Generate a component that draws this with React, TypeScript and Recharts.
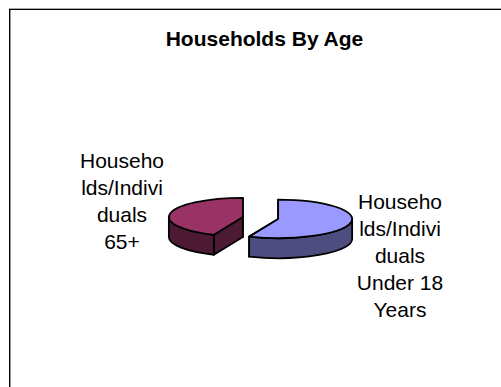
import { PieChart, Pie } from "recharts";

const categories = ["Households/Individuals Under 18 Years", "Households/Individuals 65+"];
const shares = [56.4, 43.6];
const topColors = ["#9999ff", "#993366"];
const wallColors = ["#4d4d80", "#4d1a33"];
const wrappedLabels = [
  ["Househo", "lds/Indivi", "duals", "Under 18", "Years"],
  ["Househo", "lds/Indivi", "duals", "65+"],
];

const WIDTH = 501;
const HEIGHT = 387;
const TILT = 0.26; // squash of the pie's circle into an ellipse
const DEPTH = 20;
const EXPLODE = 18;
const LABEL_X = [400, 122];
const LABEL_TOP = [209, 168];
const LINE_HEIGHT = 26.9;

const rows = categories.map((name, i) => ({
  name,
  value: shares[i],
  fill: topColors[i],
  wall: wallColors[i],
}));

// Draws one slice as a tilted wedge: cut faces, then rim, then lid
function Wedge(props: any) {
  const { cx, cy, outerRadius: rx, startAngle, endAngle, fill } = props;
  const wall = props.wall ?? props.payload?.wall;
  const ry = rx * TILT;
  const mid = (startAngle + endAngle) / 2;
  const ox = cx + EXPLODE * Math.cos((mid * Math.PI) / 180);
  const oy = cy - EXPLODE * TILT * Math.sin((mid * Math.PI) / 180);
  const at = (deg: number, drop = 0) => {
    const r = (deg * Math.PI) / 180;
    return `${ox + rx * Math.cos(r)} ${oy - ry * Math.sin(r) + drop}`;
  };
  const c = `${ox} ${oy}`;
  const cLow = `${ox} ${oy + DEPTH}`;
  const large = startAngle - endAngle > 180 ? 1 : 0;
  const rimFrom = Math.min(startAngle, 0);
  const rimTo = Math.max(endAngle, -180);
  const line = { stroke: "#000", strokeWidth: 1.8, strokeLinejoin: "round" as const };

  return (
    <g>
      {[startAngle, endAngle].map((a: number) => (
        <path key={a} d={`M${c} L${at(a)} L${at(a, DEPTH)} L${cLow} Z`} fill={wall} {...line} />
      ))}
      {rimFrom > rimTo && (
        <path
          d={`M${at(rimFrom)} A${rx} ${ry} 0 0 1 ${at(rimTo)} L${at(rimTo, DEPTH)} A${rx} ${ry} 0 0 0 ${at(rimFrom, DEPTH)} Z`}
          fill={wall}
          {...line}
        />
      )}
      <path d={`M${c} L${at(startAngle)} A${rx} ${ry} 0 ${large} 1 ${at(endAngle)} Z`} fill={fill} {...line} />
    </g>
  );
}

function SliceLabel({ index }: any) {
  return (
    <text textAnchor="middle" fontFamily="Liberation Sans" fontSize={21} fill="#000">
      {wrappedLabels[index].map((t, i) => (
        <tspan key={i} x={LABEL_X[index]} y={LABEL_TOP[index] + i * LINE_HEIGHT}>
          {t}
        </tspan>
      ))}
    </text>
  );
}

export default function App() {
  return (
    <div style={{ position: "absolute", left: 0, top: 0, width: WIDTH, height: HEIGHT, overflow: "hidden", background: "#fff" }}>
      {/* sheet edge, only its top and left sides fall inside the page */}
      <div
        style={{
          position: "absolute",
          left: 9,
          top: 9,
          width: WIDTH,
          height: HEIGHT,
          borderLeft: "1px solid #000",
          borderTop: "1px solid #000",
          boxShadow: "inset 1px 0 0 #999, 0 -1px 0 #aaa",
        }}
      />
      <div style={{ position: "absolute", left: 0, top: 0 }}>
        <PieChart width={WIDTH} height={HEIGHT} margin={{ top: 0, right: 0, bottom: 0, left: 0 }}>
          <text x={264.5} y={46} textAnchor="middle" fontFamily="Liberation Sans" fontWeight="bold" fontSize={21} fill="#000">
            Households By Age
          </text>
          <Pie
            data={rows}
            dataKey="value"
            nameKey="name"
            cx={260.5}
            cy={218}
            outerRadius={74}
            startAngle={90}
            endAngle={-270}
            shape={Wedge}
            label={SliceLabel}
            labelLine={false}
            isAnimationActive={false}
          />
        </PieChart>
      </div>
    </div>
  );
}
